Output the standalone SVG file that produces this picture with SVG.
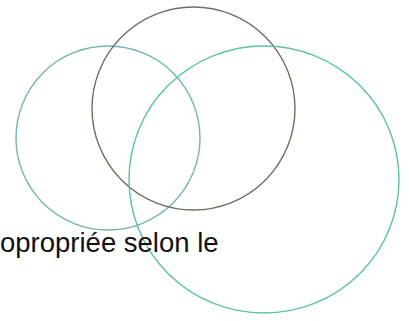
<svg xmlns="http://www.w3.org/2000/svg" width="410" height="321" viewBox="0 0 410 321">
<style>
.c{fill:none;stroke-width:1.4}
.t{font-family:"Liberation Sans",Arial,sans-serif;font-size:27.5px;fill:#111}
</style>
<rect width="410" height="321" fill="#fff"/>
<g id="left"><circle class="c" cx="108" cy="138" r="92" stroke="#72b4b2"/></g>
<g id="middle"><circle class="c" cx="193.5" cy="108.5" r="101.5" stroke="#736d61"/></g>
<g id="right"><ellipse class="c" cx="264" cy="179.5" rx="135" ry="133.5" stroke="#5cc2a6"/></g>
<g id="label"><text class="t" x="0" y="252">opropriée selon le</text></g>
</svg>
